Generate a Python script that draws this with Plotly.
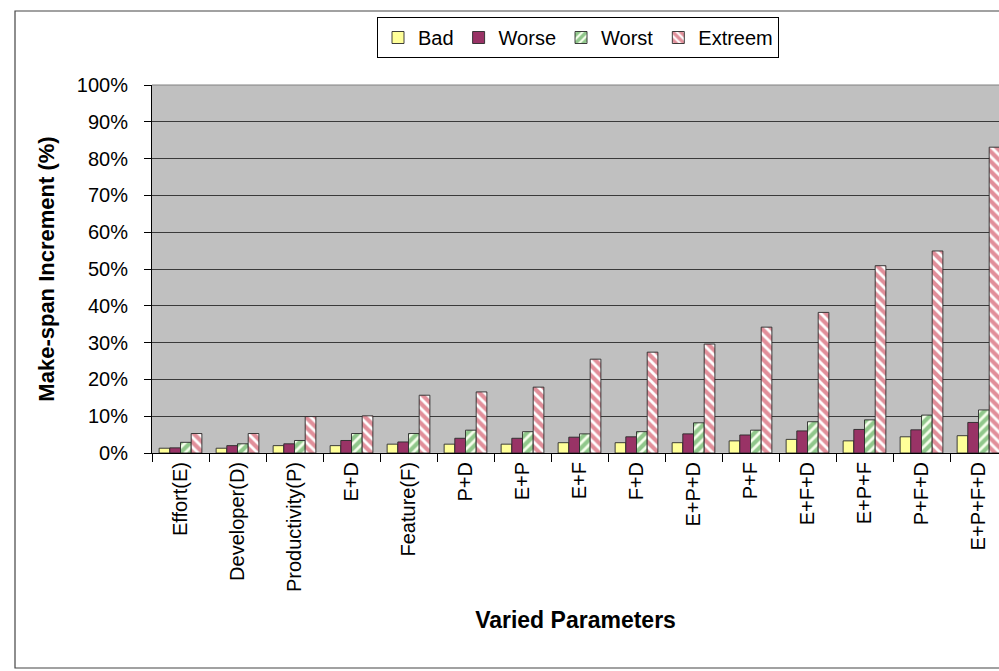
import plotly.graph_objects as go

categories = ["Effort(E)", "Developer(D)", "Productivity(P)", "E+D", "Feature(F)", "P+D",
              "E+P", "E+F", "F+D", "E+P+D", "P+F", "E+F+D", "E+P+F", "P+F+D", "E+P+F+D"]
bad = [1.3, 1.3, 2.0, 2.0, 2.4, 2.4, 2.4, 2.8, 2.8, 2.8, 3.3, 3.7, 3.3, 4.4, 4.7]
worse = [1.4, 2.0, 2.5, 3.4, 3.0, 4.0, 4.0, 4.3, 4.4, 5.2, 4.9, 6.0, 6.4, 6.3, 8.3]
worst = [2.9, 2.5, 3.4, 5.3, 5.3, 6.2, 5.8, 5.2, 5.8, 8.2, 6.2, 8.5, 9.0, 10.3, 11.7]
extreem = [5.3, 5.3, 9.9, 10.1, 15.7, 16.6, 17.9, 25.5, 27.4, 29.6, 34.2, 38.2, 50.9, 54.9, 83.1]
series_names = ["Bad", "Worse", "Worst", "Extreem"]

W, H = 999, 671
L, R, T, B = 152, 0, 85, 671 - 453
pw, ph = W - L - R, H - T - B

def px_x(x):
    return (x - L) / pw

def px_y(y):
    return (H - B - y) / ph

fig = go.Figure()
outline = dict(color="#2a2a2a", width=0.9)
fig.add_trace(go.Bar(name=series_names[0], x=categories, y=[v / 100 for v in bad],
                     marker=dict(color="#FFFF99", line=outline)))
fig.add_trace(go.Bar(name=series_names[1], x=categories, y=[v / 100 for v in worse],
                     marker=dict(color="#993366", line=outline)))
fig.add_trace(go.Bar(name=series_names[2], x=categories, y=[v / 100 for v in worst],
                     marker=dict(color="white", line=outline,
                                 pattern=dict(shape="/", fgcolor="#2A8F2A", bgcolor="#F6FFEC",
                                              size=7, solidity=0.6))))
fig.add_trace(go.Bar(name=series_names[3], x=categories, y=[v / 100 for v in extreem],
                     marker=dict(color="white", line=outline,
                                 pattern=dict(shape="\\", fgcolor="#C42035", bgcolor="white",
                                              size=7, solidity=0.6))))

font = "Liberation Sans, Arial, sans-serif"
fig.update_layout(
    width=W, height=H,
    margin=dict(l=L, r=R, t=T, b=B, pad=0),
    paper_bgcolor="white",
    plot_bgcolor="#C0C0C0",
    barmode="group",
    bargap=0.25,
    bargroupgap=0,
    font=dict(family=font, size=20, color="black"),
    legend=dict(orientation="h", x=px_x(578), xanchor="center", y=px_y(17), yanchor="top",
                bordercolor="black", borderwidth=1, bgcolor="white",
                font=dict(size=20), traceorder="normal", itemwidth=30,
                tracegroupgap=0),
    xaxis=dict(range=[-0.5, -0.5 + pw / 57.0], tickangle=-90, tickson="boundaries",
               ticks="outside", ticklen=8, tickcolor="black", showline=True,
               linecolor="black", linewidth=1, showgrid=False,
               tickfont=dict(size=20),
               title=dict(text="<b>Varied Parameters</b>", font=dict(size=23), standoff=20)),
    yaxis=dict(range=[0, 1], dtick=0.1, tickformat=".0%", ticks="outside", ticklen=7,
               tickcolor="black", showline=True, linecolor="black", linewidth=1,
               gridcolor="#3a3a3a", gridwidth=1, zeroline=False,
               tickfont=dict(size=20), ticklabelstandoff=12,
               title=dict(text="<b>Make-span Increment (%)</b>", font=dict(size=22), standoff=16)),
    shapes=[
        dict(type="rect", xref="paper", yref="paper",
             x0=px_x(15), x1=px_x(1010), y0=px_y(668), y1=px_y(11),
             line=dict(color="#444444", width=1.2), fillcolor="rgba(0,0,0,0)", layer="below"),
        dict(type="line", xref="paper", yref="paper", x0=0, x1=1, y0=1, y1=1,
             line=dict(color="#808080", width=1)),
    ],
)

fig.write_html("out.html")
